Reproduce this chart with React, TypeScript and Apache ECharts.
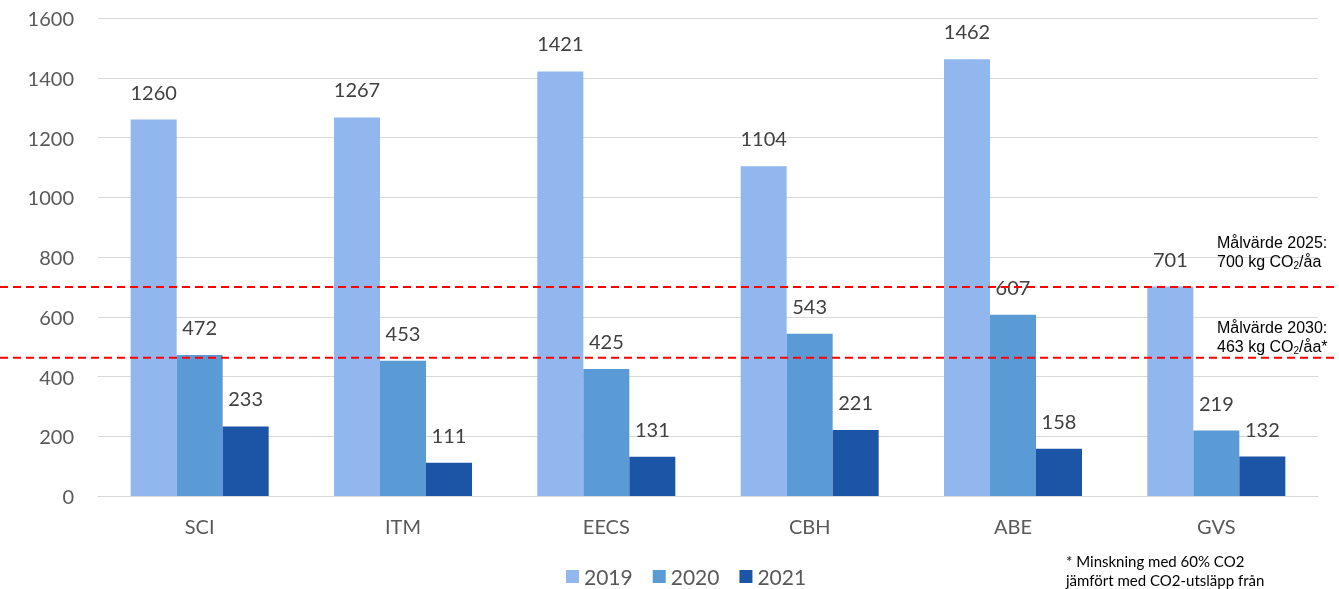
import React, { useEffect, useRef } from "react";
import * as echarts from "echarts";

const categories = ["SCI", "ITM", "EECS", "CBH", "ABE", "GVS"];
const years = ["2019", "2020", "2021"];
const values2019 = [1260, 1267, 1421, 1104, 1462, 701];
const values2020 = [472, 453, 425, 543, 607, 219];
const values2021 = [233, 111, 131, 221, 158, 132];
const target2025 = 700;
const target2030 = 463;
const yTicks = { min: 0, max: 1600, interval: 200 };

const colors = ["#91B7EE", "#5B9BD5", "#1C54A6"];
const FONT = "Lato, 'Noto Sans', sans-serif";
const ARIAL = "'Liberation Sans', Arial, sans-serif";

export default function App() {
  const ref = useRef<HTMLDivElement>(null);
  useEffect(() => {
    if (!ref.current) return;
    document.body.style.margin = "0";
    document.body.style.overflow = "hidden";
    const chart = echarts.init(ref.current, undefined, { renderer: "svg" });
    const seriesData = [values2019, values2020, values2021];
    chart.setOption({
      animation: false,
      textStyle: { fontFamily: FONT },
      grid: { left: 98, right: 21, top: 18, bottom: 93, containLabel: false },
      legend: {
        left: 561,
        top: 561,
        itemWidth: 13,
        itemHeight: 13,
        itemGap: 20,
        icon: "rect",
        textStyle: { fontSize: 21, color: "#595959", fontFamily: FONT },
        data: years,
      },
      xAxis: {
        type: "category",
        data: categories,
        axisTick: { show: false },
        axisLine: { lineStyle: { color: "#D9D9D9", width: 1 } },
        axisLabel: { fontSize: 20, color: "#595959", margin: 20, fontFamily: FONT },
      },
      yAxis: {
        type: "value",
        min: yTicks.min,
        max: yTicks.max,
        interval: yTicks.interval,
        axisLine: { show: false },
        axisTick: { show: false },
        axisLabel: {
          fontSize: 20,
          color: "#595959",
          margin: 24,
          fontFamily: FONT,
          formatter: (v: number) => String(v),
        },
        splitLine: { lineStyle: { color: "#D9D9D9", width: 1 } },
      },
      series: years.map((y, i) => ({
        name: y,
        type: "bar",
        data: seriesData[i],
        barWidth: 46,
        barGap: "0%",
        itemStyle: { color: colors[i] },
        label: {
          show: true,
          position: "top",
          distance: 18,
          fontSize: 20,
          color: "#404040",
          fontFamily: FONT,
        },
      })),
    });

    const y25 = chart.convertToPixel({ yAxisIndex: 0 }, target2025) as number;
    const y30 = chart.convertToPixel({ yAxisIndex: 0 }, target2030) as number;
    const W = 1339;
    const dash = { stroke: "#FF0000", lineWidth: 2, lineDash: [8, 5] };
    const annoStyle = (line1: string, num: string, star: string) => ({
      text: `{n|${line1}}\n{n|${num} kg CO}{s|2}{n|/åa${star}}`,
      fill: "#000",
      rich: {
        n: { fontSize: 16, fontFamily: ARIAL, fill: "#000", lineHeight: 19 },
        s: { fontSize: 10, fontFamily: ARIAL, fill: "#000", padding: [9, 0, 0, 0], lineHeight: 19 },
      },
    });
    chart.setOption({
      graphic: [
        { type: "line", shape: { x1: 0, y1: y25, x2: W, y2: y25 }, style: dash, z: 10 },
        { type: "line", shape: { x1: 0, y1: y30, x2: W, y2: y30 }, style: dash, z: 10 },
        { type: "text", x: 1217, y: y25 - 54, style: annoStyle("Målvärde 2025:", String(target2025), ""), z: 10 },
        { type: "text", x: 1217, y: y30 - 40, style: annoStyle("Målvärde 2030:", String(target2030), "*"), z: 10 },
        {
          type: "text",
          x: 1066,
          y: 551,
          style: {
            text: "* Minskning med 60% CO2\njämfört med CO2-utsläpp från",
            font: `15px ${FONT}`,
            fill: "#000",
            lineHeight: 19,
          },
        },
      ],
    });
    return () => chart.dispose();
  }, []);
  return <div ref={ref} style={{ position: "fixed", left: 0, top: 0, width: 1339, height: 589 }} />;
}
